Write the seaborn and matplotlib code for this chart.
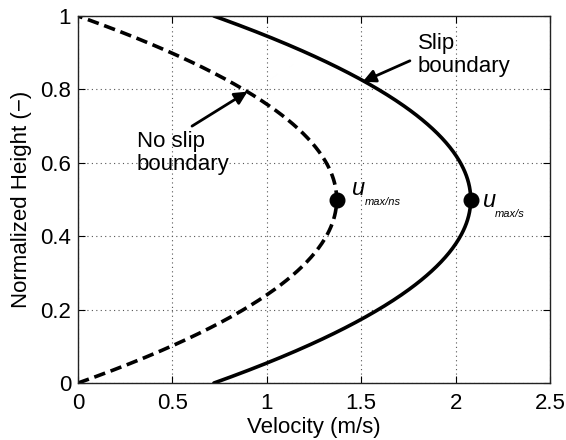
import numpy as np
import pandas as pd
import matplotlib
matplotlib.use("Agg")
import matplotlib.pyplot as plt
import seaborn as sns

# Velocity profile parameters (m/s)
wall_velocity_noslip = 0.0
peak_velocity_noslip = 1.37
wall_velocity_slip = 0.72
peak_velocity_slip = 2.08
peak_height = 0.5

x_ticks = [0, 0.5, 1, 1.5, 2, 2.5]
x_tick_labels = ["0", "0.5", "1", "1.5", "2", "2.5"]
y_ticks = [0, 0.2, 0.4, 0.6, 0.8, 1]
y_tick_labels = ["0", "0.2", "0.4", "0.6", "0.8", "1"]

# Parabolic (Poiseuille-type) channel profiles
height = np.linspace(0, 1, 401)
shape = 4 * height * (1 - height)
noslip = wall_velocity_noslip + (peak_velocity_noslip - wall_velocity_noslip) * shape
slip = wall_velocity_slip + (peak_velocity_slip - wall_velocity_slip) * shape

df = pd.DataFrame({
    "height": np.concatenate([height, height]),
    "velocity": np.concatenate([noslip, slip]),
    "case": ["No slip"] * len(height) + ["Slip"] * len(height),
})

sns.set_style("ticks")
plt.rcParams["font.family"] = ["Liberation Sans", "DejaVu Sans"]
plt.rcParams["text.color"] = "black"
plt.rcParams["axes.labelcolor"] = "black"
plt.rcParams["xtick.color"] = "black"
plt.rcParams["ytick.color"] = "black"

fig = plt.figure(figsize=(5.66, 4.40), dpi=100)
ax = fig.add_axes([0.1378, 0.1295, 0.9717 - 0.1378, 0.9636 - 0.1295])

sns.lineplot(data=df, x="velocity", y="height", hue="case", style="case",
             palette={"No slip": "black", "Slip": "black"},
             dashes={"No slip": (3.2, 1.6), "Slip": ""},
             sort=False, estimator=None, linewidth=2.6, legend=False, ax=ax)

# Peak velocity markers
ax.plot([peak_velocity_noslip, peak_velocity_slip], [peak_height, peak_height],
        "o", color="black", markersize=10.5, zorder=5)

ax.set_xlim(0, 2.5)
ax.set_ylim(0, 1)
ax.set_xticks(x_ticks)
ax.set_xticklabels(x_tick_labels)
ax.set_yticks(y_ticks)
ax.set_yticklabels(y_tick_labels)
ax.tick_params(axis="x", pad=7)
ax.tick_params(axis="y", pad=5)
ax.tick_params(axis="both", which="both", direction="in", length=5, width=0.8,
               top=True, right=True, labelsize=16, colors="black")
for s in ax.spines.values():
    s.set_visible(True)
    s.set_color("#222222")
    s.set_linewidth(1.0)
ax.grid(True, linestyle=(0, (1, 3)), color="#555555", linewidth=0.8)

ax.set_xlabel("Velocity (m/s)", fontsize=16, labelpad=2, color="black")
ax.set_ylabel("Normalized Height (\u2212)", fontsize=16, labelpad=6, color="black")

# Peak labels
ax.text(1.450, 0.512, "u", fontsize=17, style="italic", ha="left", va="baseline")
ax.text(1.520, 0.485, "max/ns", fontsize=8, style="italic", ha="left", va="baseline")
ax.text(2.147, 0.480, "u", fontsize=17, style="italic", ha="left", va="baseline")
ax.text(2.209, 0.452, "max/s", fontsize=8, style="italic", ha="left", va="baseline")

# Curve callouts
arrow = dict(arrowstyle="-|>", color="black", lw=2.0, mutation_scale=19,
             shrinkA=0, shrinkB=0)
ax.annotate("", xy=(1.508, 0.821), xytext=(1.758, 0.878), arrowprops=arrow)
ax.text(1.80, 0.955, "Slip\nboundary", fontsize=16, ha="left", va="top",
        linespacing=1.15)
ax.annotate("", xy=(0.898, 0.794), xytext=(0.604, 0.700), arrowprops=arrow)
ax.text(0.31, 0.688, "No slip\nboundary", fontsize=16, ha="left", va="top",
        linespacing=1.15)

fig.savefig("out.png", dpi=100)
